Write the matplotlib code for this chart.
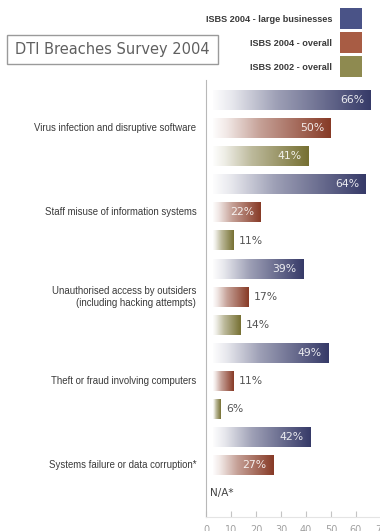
import numpy as np
import matplotlib
matplotlib.use("Agg")
import matplotlib.pyplot as plt
from matplotlib.colors import LinearSegmentedColormap, to_rgb
from matplotlib.patches import Rectangle

# ---- data -------------------------------------------------------------
categories = [
    "Virus infection and disruptive software",
    "Staff misuse of information systems",
    "Unauthorised access by outsiders\n(including hacking attempts)",
    "Theft or fraud involving computers",
    "Systems failure or data corruption*",
]
series_names = ["ISBS 2004 - large businesses", "ISBS 2004 - overall", "ISBS 2002 - overall"]
large_2004 = [66, 64, 39, 49, 42]
overall_2004 = [50, 22, 17, 11, 27]
overall_2002 = [41, 11, 14, 6, None]
x_ticks = [0, 10, 20, 30, 40, 50, 60, 70]
title = "DTI Breaches Survey 2004"

# ---- style ------------------------------------------------------------
dark_colors = ["#363a68", "#873a26", "#767032"]
legend_colors = ["#4a5387", "#a85c44", "#8e8a50"]
sans = ["Liberation Sans", "DejaVu Sans"]
BAR_START = 2.8
BAR_H = 0.71

fig = plt.figure(figsize=(3.8, 5.31), dpi=100)
W, H = 380, 531
ax = fig.add_axes([206 / W, (H - 517) / H, 175 / W, (517 - 80) / H])


def gradient_cmap(c):
    rgb = np.array(to_rgb(c))
    stops = [0.0, 0.12, 0.4, 1.0]
    mix = [0.99, 0.88, 0.52, 0.0]
    cols = [rgb + (1 - rgb) * m for m in mix]
    return LinearSegmentedColormap.from_list("g", list(zip(stops, cols)))


series = [large_2004, overall_2004, overall_2002]
grad = np.linspace(0, 1, 256).reshape(1, -1)
for k, vals in enumerate(series):
    slots = [3 * j + k for j, v in enumerate(vals) if v is not None]
    v_ok = [v for v in vals if v is not None]
    bars = ax.barh(slots, [v - BAR_START for v in v_ok], left=BAR_START,
                   height=BAR_H, facecolor="none", edgecolor="none")
    cmap = gradient_cmap(dark_colors[k])
    for p, v, s in zip(bars.patches, v_ok, slots):
        x0, y0 = p.get_x(), p.get_y()
        ax.imshow(grad, cmap=cmap, aspect="auto", interpolation="bilinear",
                  extent=(x0, x0 + p.get_width(), y0 + p.get_height(), y0), zorder=2)
        if v >= 20:
            ax.annotate(f"{v}%", xy=(v, s), xytext=(-5, 0), textcoords="offset points",
                        ha="right", va="center", color="white", alpha=0.88,
                        fontsize=7.8, zorder=4)
        else:
            ax.annotate(f"{v}%", xy=(v, s), xytext=(3.5, 0), textcoords="offset points",
                        ha="left", va="center", color="#555555",
                        fontsize=7.8, zorder=4)
    for j, v in enumerate(vals):
        if v is None:
            ax.annotate("N/A*", xy=(0, 3 * j + k), xytext=(3, 0),
                        textcoords="offset points", ha="left", va="center",
                        color="#444444", fontsize=7.5)

ax.set_ylim(14.84, -0.712)
ax.set_xlim(0, 70)

# category labels
for j, name in enumerate(categories):
    ax.annotate(name, xy=(0, 3 * j + 1), xycoords=("axes fraction", "data"),
                xytext=(-7, 0), textcoords="offset points", ha="right", va="center",
                multialignment="right", fontsize=6.9, family=sans, color="#3a3a3a",
                linespacing=1.25)

# axes styling
for side in ("top", "right"):
    ax.spines[side].set_visible(False)
ax.spines["left"].set_color("#b8b8b8")
ax.spines["bottom"].set_color("#e4e4e4")
ax.set_yticks([])
ax.set_xticks(x_ticks)
ax.tick_params(axis="x", direction="in", length=4.5, width=0.8, color="#c4c4c4",
               labelcolor="#a0a0a0", labelsize=7, pad=6)
ax.set_facecolor("none")

# legend: labels right-aligned, swatches to their right
swatch_tops = [8, 32, 56]
for name, c, top in zip(series_names, legend_colors, swatch_tops):
    fig.add_artist(Rectangle((340 / W, 1 - (top + 21) / H), 22 / W, 21 / H,
                             transform=fig.transFigure, facecolor=c, edgecolor="none"))
    fig.text(332 / W, 1 - (top + 11.5) / H, name, ha="right", va="center",
             family=sans, fontsize=6.6, weight="bold", color="#3a3a3a")

# title box
fig.add_artist(Rectangle((7 / W, 1 - 64 / H), 211 / W, 29 / H, transform=fig.transFigure,
                         facecolor="white", edgecolor="#9a9a9a", linewidth=1))
fig.text(112.5 / W, 1 - 49.5 / H, title, ha="center", va="center", fontsize=10.5,
         color="#606060", family="DejaVu Sans")

fig.savefig("out.png", dpi=100)
